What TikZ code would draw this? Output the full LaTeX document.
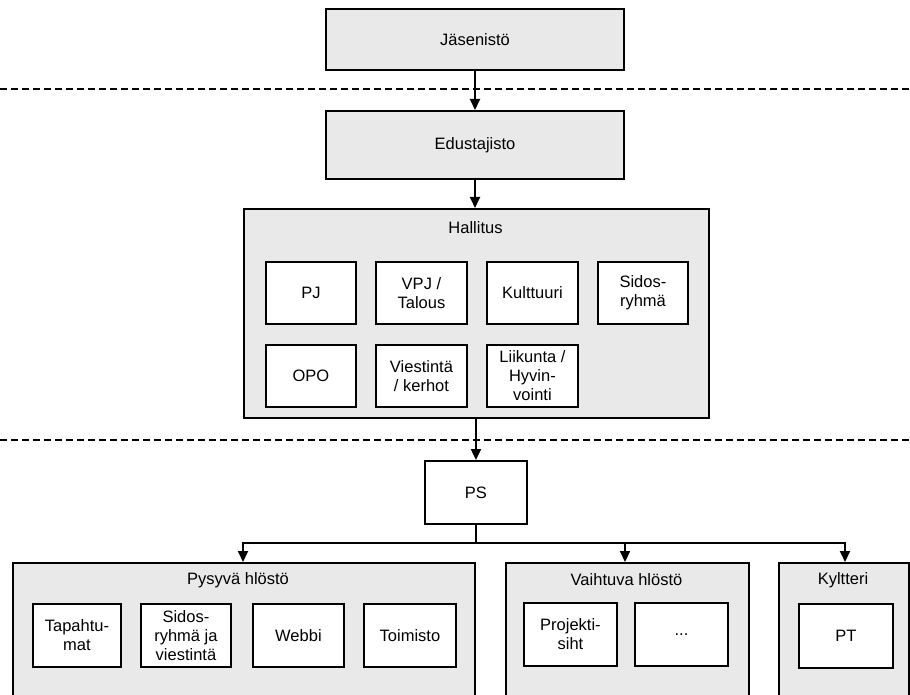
\documentclass[tikz,border=0pt]{standalone}
\usepackage{fontspec}
\setmainfont{Liberation Sans}
\usetikzlibrary{arrows.meta}
\begin{document}
\begin{tikzpicture}[x=1pt,y=-1pt,
  font=\fontsize{16.5}{19}\selectfont,
  cont/.style={draw, line width=2pt, fill=gray!17, inner sep=0pt, anchor=north west},
  unit/.style={draw, line width=1.9pt, fill=white, align=center, inner sep=0pt, anchor=north west, minimum height=62},
  ttl/.style={inner sep=0pt},
  conn/.style={line width=2pt},
  arr/.style={line width=2pt, -{Triangle[length=11pt,width=10pt]}},
  sepline/.style={line width=1.5pt, dash pattern=on 7pt off 4pt}]
\useasboundingbox (0,0) rectangle (910,695);
\clip (0,0) rectangle (910,695);
% separators
\coordinate (d1l) at (0,89); \coordinate (d1r) at (910,89);
\coordinate (d2l) at (0,440); \coordinate (d2r) at (910,440);
\draw[sepline] (d1l) -- (d1r);
\draw[sepline] (d2l) -- (d2r);
% top
\node[cont, minimum width=298, minimum height=61] (jas) at (325,8) {Jäsenistö};
\node[cont, minimum width=298, minimum height=68] (edu) at (325,110) {Edustajisto};
% Hallitus
\node[cont, minimum width=465, minimum height=209] (hal) at (243,208) {};
\node[ttl] (halT) at (475.5,228) {Hallitus};
\node[unit, minimum width=90] (pj) at (265,261) {PJ};
\node[unit, minimum width=91] (vpj) at (375,261) {VPJ /\\Talous};
\node[unit, minimum width=91] (kult) at (486,261) {Kulttuuri};
\node[unit, minimum width=90] (sid) at (597,261) {Sidos-\\ryhmä};
\node[unit, minimum width=90] (opo) at (265,344) {OPO};
\node[unit, minimum width=91] (vies) at (375,344) {Viestintä\\/ kerhot};
\node[unit, minimum width=91] (liik) at (486,344) {Liikunta /\\Hyvin-\\vointi};
% PS
\node[unit, minimum width=102, minimum height=63] (ps) at (424,460) {PS};
% bottom containers
\node[cont, minimum width=462, minimum height=150] (pys) at (12,562) {};
\node[ttl] (pysT) at (238,580) {Pysyvä hlöstö};
\node[unit, minimum width=88, minimum height=63] (tap) at (32,603) {Tapahtu-\\mat};
\node[unit, minimum width=90, minimum height=63] (sry) at (140,603) {Sidos-\\ryhmä ja\\viestintä};
\node[unit, minimum width=91, minimum height=63] (web) at (252,603) {Webbi};
\node[unit, minimum width=92, minimum height=63] (toi) at (363,603) {Toimisto};
\node[cont, minimum width=243, minimum height=150] (vai) at (505,562) {};
\node[ttl] (vaiT) at (626.5,580) {Vaihtuva hlöstö};
\node[unit, minimum width=93, minimum height=63] (proj) at (523,602) {Projekti-\\siht};
\node[unit, minimum width=93, minimum height=63] (dots) at (634,602) {...};
\node[cont, minimum width=130, minimum height=150] (kyl) at (778,562) {};
\node[ttl] (kylT) at (843,580) {Kyltteri};
\node[unit, minimum width=94, minimum height=64] (pt) at (798,603) {PT};
% connectors
\draw[arr] (jas.south) -- (edu.north);
\draw[arr] (edu.south) -- (edu.south |- hal.north);
\draw[arr] (ps.north |- hal.south) -- (ps.north);
\coordinate (b1) at (243,543);
\coordinate (b2) at (625,543);
\coordinate (b3) at (845,543);
\draw[conn] (ps.south) -- (ps.south |- b1);
\draw[conn] ([xshift=-1pt]b1) -- ([xshift=1pt]b3);
\draw[arr] (b1) -- (b1 |- pys.north);
\draw[arr] (b2) -- (b2 |- vai.north);
\draw[arr] (b3) -- (b3 |- kyl.north);
\end{tikzpicture}
\end{document}
